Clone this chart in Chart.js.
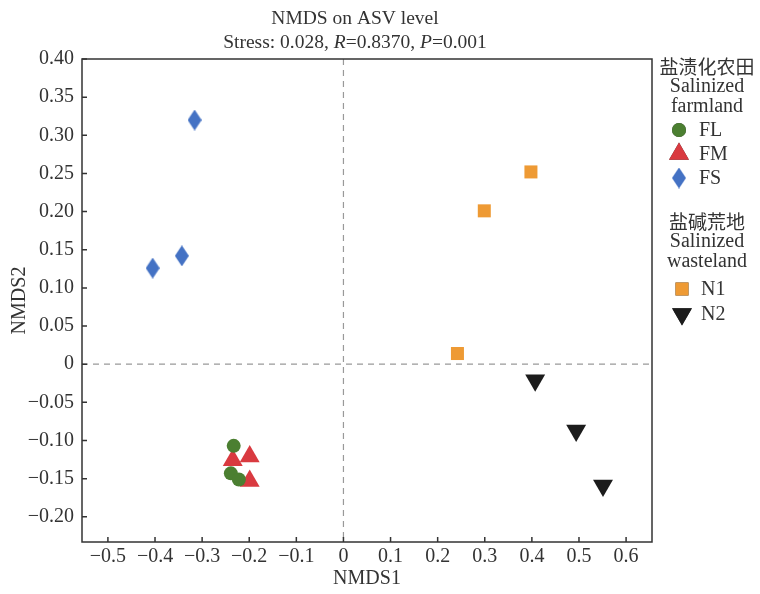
<!DOCTYPE html>
<html>
<head>
<meta charset="utf-8">
<script src="https://cdn.jsdelivr.net/npm/chart.js@4.4.1/dist/chart.umd.min.js"></script>
<style>
  body { margin: 0; background: #fff; }
  #wrap { width: 760px; height: 594px; }
</style>
</head>
<body>
<div id="wrap"><canvas id="nmds" width="760" height="594"></canvas></div>
<script>
// NMDS scores
const flX = [-0.233, -0.239, -0.222];
const flY = [-0.107, -0.143, -0.151];
const fmX = [-0.235, -0.199, -0.199];
const fmY = [-0.126, -0.121, -0.153];
const fsX = [-0.316, -0.405, -0.343];
const fsY = [0.320, 0.126, 0.142];
const n1X = [0.398, 0.299, 0.242];
const n1Y = [0.252, 0.201, 0.014];
const n2X = [0.407, 0.494, 0.551];
const n2Y = [-0.021, -0.087, -0.159];

const xTicks = [-0.5, -0.4, -0.3, -0.2, -0.1, 0, 0.1, 0.2, 0.3, 0.4, 0.5, 0.6];
const yTicks = [-0.20, -0.15, -0.10, -0.05, 0, 0.05, 0.10, 0.15, 0.20, 0.25, 0.30, 0.35, 0.40];

const serif = "'Liberation Serif', 'DejaVu Serif', serif";
const cjk = "'Noto Sans CJK SC', 'Liberation Serif', sans-serif";
const ink = '#333333';
const fs = 20;

function pts(xs, ys) {
  return xs.map((x, i) => ({ x: x, y: ys[i] }));
}

// tall diamond marker for FS
function diamond(w, h, color) {
  const c = document.createElement('canvas');
  c.width = w; c.height = h;
  const g = c.getContext('2d');
  g.fillStyle = color;
  g.beginPath();
  g.moveTo(w / 2, 0);
  g.lineTo(w, h / 2);
  g.lineTo(w / 2, h);
  g.lineTo(0, h / 2);
  g.closePath();
  g.fill();
  return c;
}

const fsMark = diamond(14, 21, '#4472c4');

function fmtMinus(s) {
  return s.replace('-', '\u2212');
}

const frame = {
  id: 'frame',
  beforeDatasetsDraw(chart) {
    const ctx = chart.ctx, a = chart.chartArea;
    const x0 = chart.scales.x.getPixelForValue(0);
    const y0 = chart.scales.y.getPixelForValue(0);
    ctx.save();
    ctx.strokeStyle = '#999999';
    ctx.lineWidth = 1.2;
    ctx.setLineDash([6, 5]);
    ctx.beginPath();
    ctx.moveTo(x0, a.top); ctx.lineTo(x0, a.bottom);
    ctx.moveTo(a.left, y0); ctx.lineTo(a.right, y0);
    ctx.stroke();
    ctx.restore();
  },
  afterDraw(chart) {
    const ctx = chart.ctx, a = chart.chartArea;
    const sx = chart.scales.x, sy = chart.scales.y;
    ctx.save();
    // box
    ctx.strokeStyle = ink;
    ctx.lineWidth = 1.5;
    ctx.strokeRect(a.left, a.top, a.right - a.left, a.bottom - a.top);
    // inward ticks
    ctx.beginPath();
    xTicks.forEach(v => {
      const px = sx.getPixelForValue(v);
      ctx.moveTo(px, a.bottom); ctx.lineTo(px, a.bottom - 5);
    });
    yTicks.forEach(v => {
      const py = sy.getPixelForValue(v);
      ctx.moveTo(a.left, py); ctx.lineTo(a.left + 5, py);
    });
    ctx.stroke();

    // title
    ctx.fillStyle = ink;
    ctx.textBaseline = 'middle';
    ctx.textAlign = 'center';
    const cx = (a.left + a.right) / 2;
    const tcx = 355;
    ctx.font = '19.5px ' + serif;
    ctx.fillText('NMDS on ASV level', tcx, 19);
    const parts = [
      ['Stress: 0.028, ', ''], ['R', 'italic '], ['=0.8370, ', ''], ['P', 'italic '], ['=0.001', '']
    ];
    let total = 0;
    parts.forEach(p => { ctx.font = p[1] + '19.5px ' + serif; total += ctx.measureText(p[0]).width; });
    let tx = tcx - total / 2;
    ctx.textAlign = 'left';
    parts.forEach(p => {
      ctx.font = p[1] + '19.5px ' + serif;
      ctx.fillText(p[0], tx, 43);
      tx += ctx.measureText(p[0]).width;
    });

    // axis titles
    ctx.font = fs + 'px ' + serif;
    ctx.textAlign = 'center';
    ctx.fillText('NMDS1', cx, 579);
    ctx.save();
    ctx.translate(20, (a.top + a.bottom) / 2);
    ctx.rotate(-Math.PI / 2);
    ctx.fillText('NMDS2', 0, 0);
    ctx.restore();

    // legend
    const lx = 707;
    ctx.font = '19px ' + cjk;
    ctx.fillText('盐渍化农田', lx, 67);
    ctx.font = fs + 'px ' + serif;
    ctx.fillText('Salinized', lx, 87);
    ctx.fillText('farmland', lx, 107);
    ctx.font = '19px ' + cjk;
    ctx.fillText('盐碱荒地', lx, 222);
    ctx.font = fs + 'px ' + serif;
    ctx.fillText('Salinized', lx, 242);
    ctx.fillText('wasteland', lx, 262);

    const rows = [[0, 679, 130, 699], [1, 679, 154, 699], [2, 679, 178, 699], [3, 682, 289, 701], [4, 682, 314, 701]];
    ctx.textAlign = 'left';
    rows.forEach(r => {
      const ds = chart.data.datasets[r[0]];
      Chart.helpers.drawPoint(ctx, {
        pointStyle: ds.pointStyle,
        radius: ds.pointRadius,
        rotation: ds.pointRotation || 0,
        borderWidth: 0
      }, r[1], r[2]);
      ctx.fillStyle = ds.backgroundColor;
      if (typeof ds.pointStyle === 'string') ctx.fill();
      ctx.fillStyle = ink;
      ctx.font = fs + 'px ' + serif;
      ctx.fillText(ds.label, r[3], r[2] + 1);
    });
    ctx.restore();
  }
};

new Chart(document.getElementById('nmds'), {
  type: 'scatter',
  data: {
    datasets: [{
      label: 'FL',
      data: pts(flX, flY),
      pointStyle: 'circle',
      pointRadius: 7,
      backgroundColor: '#4b7f31',
      borderColor: '#4b7f31',
      borderWidth: 0
    }, {
      label: 'FM',
      data: pts(fmX, fmY),
      pointStyle: 'triangle',
      pointRadius: 11.5,
      backgroundColor: '#d93a40',
      borderColor: '#d93a40',
      borderWidth: 0
    }, {
      label: 'FS',
      data: pts(fsX, fsY),
      pointStyle: fsMark,
      pointRadius: 10,
      backgroundColor: '#4472c4',
      borderColor: '#4472c4',
      borderWidth: 0
    }, {
      label: 'N1',
      data: pts(n1X, n1Y),
      pointStyle: 'rect',
      pointRadius: 9.2,
      backgroundColor: '#ee9a34',
      borderColor: '#ee9a34',
      borderWidth: 0
    }, {
      label: 'N2',
      data: pts(n2X, n2Y),
      pointStyle: 'triangle',
      pointRotation: 180,
      pointRadius: 11.5,
      backgroundColor: '#1c1c1c',
      borderColor: '#1c1c1c',
      borderWidth: 0
    }]
  },
  options: {
    responsive: false,
    animation: false,
    layout: { padding: { top: 59, right: 108, left: 0, bottom: 0 } },
    plugins: {
      legend: { display: false },
      tooltip: { enabled: false }
    },
    scales: {
      x: {
        type: 'linear',
        min: -0.555,
        max: 0.655,
        afterBuildTicks: s => { s.ticks = xTicks.map(v => ({ value: v })); },
        afterFit: s => { s.height = 52; },
        grid: { display: false, drawTicks: false },
        border: { display: false },
        ticks: {
          padding: 3,
          color: ink,
          font: { family: serif, size: fs },
          callback: v => v === 0 ? '0' : fmtMinus(v.toFixed(1))
        }
      },
      y: {
        type: 'linear',
        min: -0.233,
        max: 0.40,
        afterBuildTicks: s => { s.ticks = yTicks.map(v => ({ value: v })); },
        afterFit: s => { s.width = 82; },
        grid: { display: false, drawTicks: false },
        border: { display: false },
        ticks: {
          padding: 8,
          color: ink,
          font: { family: serif, size: fs },
          callback: v => Math.abs(v) < 1e-9 ? '0' : fmtMinus(v.toFixed(2))
        }
      }
    }
  },
  plugins: [frame]
});
</script>
</body>
</html>
